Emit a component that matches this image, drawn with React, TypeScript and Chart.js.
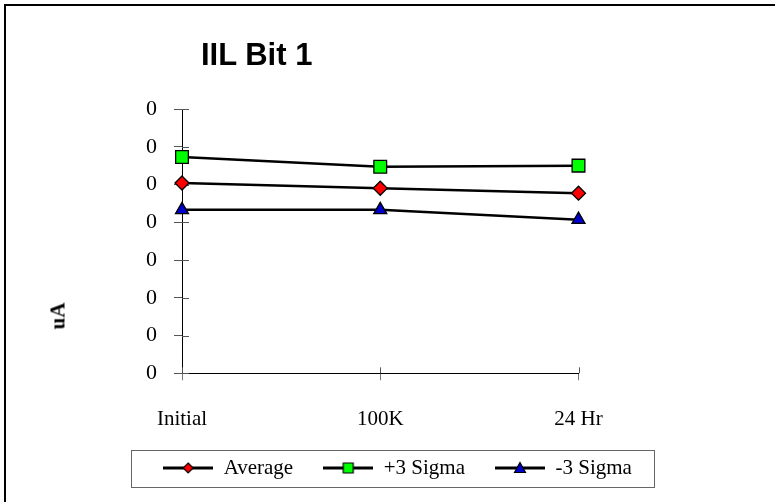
import React, { useEffect, useRef } from "react";
import { Chart, registerables } from "chart.js";

Chart.register(...registerables);

const categories = ["Initial", "100K", "24 Hr"];
const averageValues = [0.252, 0.245, 0.2385];
const plusSigmaValues = [0.2865, 0.2735, 0.275];
const minusSigmaValues = [0.2165, 0.2165, 0.2035];
const seriesNames = ["Average", "+3 Sigma", "-3 Sigma"];
const seriesColors = ["#FF0000", "#00FF00", "#0000CC"];
const seriesMarkers = ["rectRot", "rect", "triangle"];
const yMin = 0;
const yMax = 0.35;
const yStep = 0.05;

function makeLegendSymbol(color: string, marker: string): HTMLCanvasElement {
  const c = document.createElement("canvas");
  c.width = 50;
  c.height = 16;
  const ctx = c.getContext("2d")!;
  ctx.strokeStyle = "#000";
  ctx.lineWidth = 2.8;
  ctx.beginPath();
  ctx.moveTo(0, 8);
  ctx.lineTo(50, 8);
  ctx.stroke();
  ctx.fillStyle = color;
  ctx.lineWidth = 1.2;
  ctx.beginPath();
  if (marker === "rectRot") {
    ctx.moveTo(25, 3);
    ctx.lineTo(30, 8);
    ctx.lineTo(25, 13);
    ctx.lineTo(20, 8);
    ctx.closePath();
  } else if (marker === "rect") {
    ctx.rect(20, 3, 10, 10);
  } else {
    ctx.moveTo(25, 2.5);
    ctx.lineTo(30.5, 12.5);
    ctx.lineTo(19.5, 12.5);
    ctx.closePath();
  }
  ctx.fill();
  ctx.stroke();
  return c;
}

const legendBorderPlugin = {
  id: "legendBorder",
  afterDraw(chart: any) {
    const lg = chart.legend;
    if (!lg || !lg.legendHitBoxes || !lg.legendHitBoxes.length) return;
    const hb = lg.legendHitBoxes;
    const first = hb[0];
    const last = hb[hb.length - 1];
    const left = Math.round(first.left - 32) + 0.5;
    const right = Math.round(last.left + last.width + 22) + 0.5;
    const top = Math.round(first.top - 7.5) + 0.5;
    const bottom = Math.round(first.top + first.height + 8.5) + 0.5;
    const ctx = chart.ctx;
    ctx.save();
    ctx.strokeStyle = "#666";
    ctx.lineWidth = 1;
    ctx.strokeRect(left, top, right - left, bottom - top);
    ctx.restore();
  },
};

// Draws the inner half of each tick mark so ticks cross the axis lines
const crossTicksPlugin = {
  id: "crossTicks",
  beforeDatasetsDraw(chart: any) {
    const ctx = chart.ctx;
    const area = chart.chartArea;
    const xs = chart.scales.x;
    const ys = chart.scales.y;
    ctx.save();
    ctx.strokeStyle = "#555";
    ctx.lineWidth = 1;
    ys.ticks.forEach((_t: any, i: number) => {
      const py = Math.round(ys.getPixelForTick(i)) + 0.5;
      ctx.beginPath();
      ctx.moveTo(area.left, py);
      ctx.lineTo(area.left + 7, py);
      ctx.stroke();
    });
    xs.ticks.forEach((_t: any, i: number) => {
      const px = Math.round(xs.getPixelForTick(i)) + 0.5;
      ctx.beginPath();
      ctx.moveTo(px, area.bottom);
      ctx.lineTo(px, area.bottom - 6);
      ctx.stroke();
    });
    ctx.restore();
  },
};

export default function App() {
  const canvasRef = useRef<HTMLCanvasElement | null>(null);

  useEffect(() => {
    if (!canvasRef.current) return;
    const serif = "'Liberation Serif', 'Times New Roman', serif";
    const symbols = seriesColors.map((c, i) => makeLegendSymbol(c, seriesMarkers[i]));
    const valueSets = [averageValues, plusSigmaValues, minusSigmaValues];
    const chart = new Chart(canvasRef.current, {
      type: "line",
      data: {
        labels: categories,
        datasets: valueSets.map((vals, i) => ({
          label: seriesNames[i],
          data: vals,
          borderColor: "#000",
          borderWidth: 2.5,
          backgroundColor: seriesColors[i],
          pointBackgroundColor: seriesColors[i],
          pointBorderColor: "#000",
          pointBorderWidth: 1.3,
          pointStyle: seriesMarkers[i] as any,
          pointRadius: i === 0 ? 7 : i === 1 ? 9 : 7.5,
          tension: 0,
          clip: false as any,
        })),
      },
      options: {
        animation: false,
        responsive: false,
        devicePixelRatio: 1,
        color: "#000",
        layout: { padding: { left: 20, right: 0, top: 109, bottom: 13.5 } },
        scales: {
          x: {
            type: "category",
            offset: false,
            grid: {
              display: true,
              drawOnChartArea: false,
              drawTicks: true,
              tickLength: 7,
              color: "#777",
            },
            border: { display: true, color: "#000", width: 1 },
            ticks: {
              color: "#000",
              font: { family: serif, size: 21 },
              padding: 27,
              maxRotation: 0,
            },
            afterFit: (scale: any) => {
              scale.height = 54.2;
            },
          },
          y: {
            type: "linear",
            position: "left",
            min: yMin,
            max: yMax,
            grid: {
              display: true,
              drawOnChartArea: false,
              drawTicks: true,
              tickLength: 8,
              color: "#555",
            },
            border: { display: true, color: "#000", width: 1 },
            ticks: {
              stepSize: yStep,
              color: "#000",
              font: { family: serif, size: 22 },
              padding: 17,
              callback: (v: any) => Number(v).toFixed(0),
            },
            afterFit: (scale: any) => {
              scale.width = 162;
            },
          },
          yRight: {
            type: "linear",
            position: "right",
            display: true,
            grid: { display: false },
            border: { display: false },
            ticks: { display: false },
            afterFit: (scale: any) => {
              scale.width = 196.5;
            },
          },
        },
        plugins: {
          title: { display: false },
          tooltip: { enabled: false },
          legend: {
            display: true,
            position: "bottom",
            labels: {
              usePointStyle: true,
              pointStyleWidth: 50,
              padding: 30,
              color: "#000",
              font: { family: serif, size: 21 },
              generateLabels: (ch: any) => {
                const items = (Chart.defaults.plugins.legend.labels as any).generateLabels(ch);
                items.forEach((it: any, i: number) => {
                  it.pointStyle = symbols[i];
                });
                return items;
              },
            },
          },
        },
      },
      plugins: [legendBorderPlugin, crossTicksPlugin],
    });
    return () => chart.destroy();
  }, []);

  return (
    <div
      style={{
        position: "absolute",
        left: 0,
        top: 0,
        width: 775,
        height: 502,
        overflow: "hidden",
        background: "#fff",
      }}
    >
      <div
        style={{
          position: "absolute",
          left: 4,
          top: 4,
          width: 771,
          height: 498,
          borderTop: "2px solid #000",
          borderLeft: "2px solid #000",
          boxSizing: "border-box",
        }}
      />
      <canvas
        ref={canvasRef}
        width={775}
        height={502}
        style={{ position: "absolute", left: 0, top: 0, width: 775, height: 502 }}
      />
      <div
        style={{
          position: "absolute",
          left: 201,
          top: 39,
          font: "bold 31px 'Liberation Sans', Arial, sans-serif",
          lineHeight: "31px",
          whiteSpace: "nowrap",
          color: "#000",
        }}
      >
        IIL Bit 1
      </div>
      <div
        style={{
          position: "absolute",
          left: 58,
          top: 316,
          transform: "translate(-50%, -50%) rotate(-90deg)",
          font: "bold 21px 'Liberation Serif', 'Times New Roman', serif",
          lineHeight: "21px",
          whiteSpace: "nowrap",
          color: "#000",
        }}
      >
        uA
      </div>
    </div>
  );
}
